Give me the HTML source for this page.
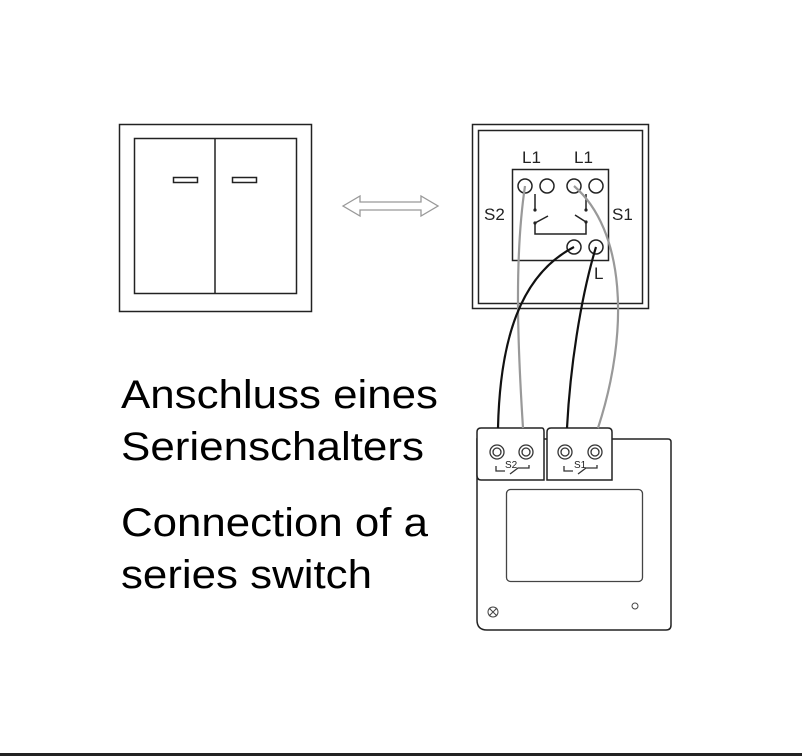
<!DOCTYPE html>
<html><head><meta charset="utf-8"><style>
html,body{margin:0;padding:0;background:#fff;}
svg{display:block;}
</style></head><body>
<svg width="802" height="756" viewBox="0 0 802 756" xmlns="http://www.w3.org/2000/svg">
<rect width="802" height="756" fill="#fff"/>
<!-- left switch -->
<rect x="119.5" y="124.5" width="192" height="187" fill="none" stroke="#222" stroke-width="1.5"/>
<rect x="134.5" y="138.5" width="162" height="155" fill="none" stroke="#222" stroke-width="1.5"/>
<line x1="215" y1="138" x2="215" y2="293" stroke="#222" stroke-width="1.5"/>
<rect x="173.5" y="177.5" width="24" height="5" fill="none" stroke="#222" stroke-width="1.5"/>
<rect x="232.5" y="177.5" width="24" height="5" fill="none" stroke="#222" stroke-width="1.5"/>
<!-- double arrow -->
<path d="M343,206 L360,196 L360,202 L421,202 L421,196 L438,206 L421,216 L421,210 L360,210 L360,216 Z" fill="#fff" stroke="#999" stroke-width="1.3"/>
<!-- right switch -->
<rect x="472.5" y="124.5" width="176" height="184" fill="none" stroke="#222" stroke-width="1.5"/>
<rect x="478.5" y="130.5" width="164" height="173" fill="none" stroke="#222" stroke-width="1.5"/>
<rect x="512.5" y="169.5" width="96" height="91" fill="none" stroke="#222" stroke-width="1.5"/>
<g fill="none" stroke="#222" stroke-width="1.5">
<circle cx="525" cy="186" r="7"/><circle cx="547" cy="186" r="7"/>
<circle cx="574" cy="186" r="7"/><circle cx="596" cy="186" r="7"/>
<circle cx="574" cy="247" r="7"/><circle cx="596" cy="247" r="7"/>
<path d="M535,194 V210 M535,223 V234 H586 V223 M586,194 V210 M535,223 L548,216 M586,222 L575,215"/>
</g>
<g fill="#222"><circle cx="535" cy="210" r="1.6"/><circle cx="535" cy="223" r="1.6"/><circle cx="586" cy="210" r="1.6"/><circle cx="586" cy="222" r="1.6"/></g>
<g font-family="Liberation Sans, sans-serif" font-size="17" fill="#222">
<text x="522" y="163">L1</text><text x="574" y="163">L1</text>
<text x="484" y="220">S2</text><text x="612" y="220">S1</text>
<text x="594" y="279">L</text>
</g>
<!-- module -->
<path d="M477,439 H668 Q671,439 671,442 V625 Q671,630 666,630 H487 Q477,630 477,620 Z" fill="#fff" stroke="#222" stroke-width="1.5"/>
<path d="M477,432 Q477,428 481,428 H542 Q544,428 544,432 V480 H481 Q477,480 477,475 Z" fill="#fff" stroke="#222" stroke-width="1.5"/>
<path d="M547,432 Q547,428 551,428 H608 Q612,428 612,432 V480 H547 Z" fill="#fff" stroke="#222" stroke-width="1.5"/>
<rect x="506.5" y="489.5" width="136" height="92" rx="4" fill="none" stroke="#444" stroke-width="1.3"/>
<circle cx="635" cy="606" r="3" fill="none" stroke="#444"/>
<circle cx="493" cy="612" r="5" fill="none" stroke="#444"/>
<path d="M489,608 L497,616 M497,608 L489,616" stroke="#444"/>
<g fill="none" stroke="#333" stroke-width="1.3">
<circle cx="497" cy="452" r="7"/><circle cx="497" cy="452" r="4"/>
<circle cx="526" cy="452" r="7"/><circle cx="526" cy="452" r="4"/>
<circle cx="565" cy="452" r="7"/><circle cx="565" cy="452" r="4"/>
<circle cx="595" cy="452" r="7"/><circle cx="595" cy="452" r="4"/>
<path d="M496,466 V471 H505 M510,474 L518,468 H529 V465"/>
<path d="M564,466 V471 H573 M578,474 L586,468 H597 V465"/>
</g>
<g font-family="Liberation Sans, sans-serif" font-size="10" fill="#222">
<text x="505" y="468">S2</text><text x="574" y="468">S1</text>
</g>
<!-- wires -->
<g fill="none" stroke-width="2.2">
<path d="M525,186 C514,260 518,350 523,428" stroke="#999"/>
<path d="M574,186 C625,230 630,330 598,428" stroke="#999"/>
<path d="M574,247 C520,275 500,340 498,428" stroke="#111"/>
<path d="M596,247 C580,300 570,370 567,428" stroke="#111"/>
</g>
<!-- text -->
<g font-family="Liberation Sans, sans-serif" font-size="40" fill="#000" lengthAdjust="spacingAndGlyphs">
<text x="121" y="408" textLength="317" lengthAdjust="spacingAndGlyphs">Anschluss eines</text>
<text x="121" y="460" textLength="303" lengthAdjust="spacingAndGlyphs">Serienschalters</text>
<text x="121" y="536" textLength="307" lengthAdjust="spacingAndGlyphs">Connection of a</text>
<text x="121" y="588" textLength="251" lengthAdjust="spacingAndGlyphs">series switch</text>
</g>
<rect x="0" y="753" width="802" height="3" fill="#222"/>
</svg>
</body></html>
